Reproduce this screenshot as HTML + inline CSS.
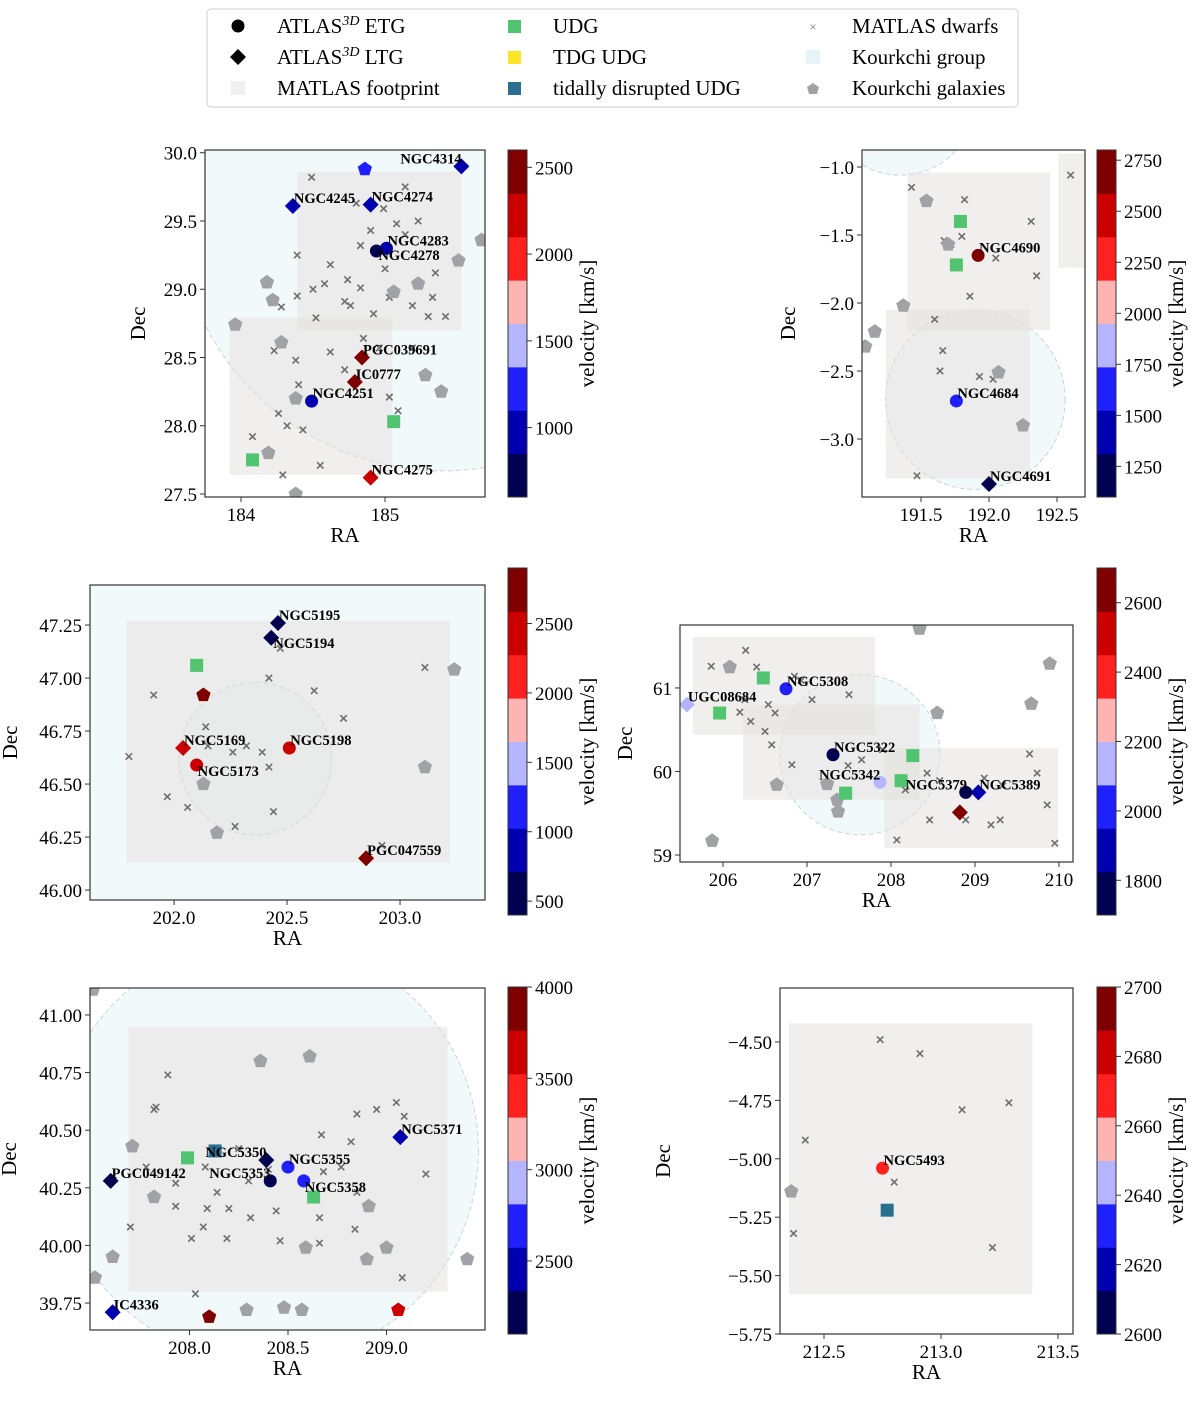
<!DOCTYPE html>
<html><head><meta charset="utf-8"><style>
body{margin:0;background:#fff;}
svg, svg text{font-family:"Liberation Serif","Times New Roman","DejaVu Serif",serif;}
</style></head><body>
<svg id="fig" width="1200" height="1396" viewBox="0 0 1200 1396" xmlns="http://www.w3.org/2000/svg" font-family="Liberation Serif, Times New Roman, serif">
<g>
<rect x="207" y="9" width="811" height="98" rx="4" fill="#fff" stroke="#cfcfcf"/>
<circle cx="238" cy="26" r="6.5" fill="#000"/>
<text x="277" y="33" font-size="21">ATLAS<tspan font-size="14" dy="-8" font-style="italic">3D</tspan><tspan dy="8"> ETG</tspan></text>
<polygon points="238,49 246,57 238,65 230,57" fill="#000"/>
<text x="277" y="64" font-size="21">ATLAS<tspan font-size="14" dy="-8" font-style="italic">3D</tspan><tspan dy="8"> LTG</tspan></text>
<rect x="231" y="81" width="14" height="14" fill="#f1f0ee"/>
<text x="277" y="95" font-size="21">MATLAS footprint</text>
<rect x="508" y="20" width="13" height="13" fill="#50c46e"/>
<text x="553" y="33" font-size="21">UDG</text>
<rect x="508" y="51" width="13" height="13" fill="#fce522"/>
<text x="553" y="64" font-size="21">TDG UDG</text>
<rect x="508" y="82" width="13" height="13" fill="#2a6f8e"/>
<text x="553" y="95" font-size="21">tidally disrupted UDG</text>
<text x="813" y="31" font-size="13" text-anchor="middle" fill="#777">×</text>
<text x="852" y="33" font-size="21">MATLAS dwarfs</text>
<rect x="806" y="50" width="14" height="14" fill="#e6f3f8"/>
<text x="852" y="64" font-size="21">Kourkchi group</text>
<polygon points="813,83 819,87 817,94 809,94 807,87" fill="#a0a2a5"/>
<text x="852" y="95" font-size="21">Kourkchi galaxies</text>
</g>
<g id="panels"></g>
</svg>
<script>
// ---------- Panel 1 data ----------
const p1_etg = [[185.01,29.30,1000,'NGC4283'],[184.94,29.28,720,'NGC4278'],[184.49,28.18,1050,'NGC4251']];
const p1_ltg = [[185.53,29.90,920,'NGC4314'],[184.36,29.61,930,'NGC4245'],[184.90,29.62,930,'NGC4274'],[184.84,28.50,2450,'PGC039691'],[184.79,28.32,2450,'IC0777'],[184.90,27.62,2230,'NGC4275']];
const p1_kvel = [[184.86,29.88,1200]];
const p1_udg = [[185.06,28.03],[184.08,27.75]];
const p1_tdg = [];
const p1_kgal = [[184.18,29.05],[183.96,28.74],[184.28,28.61],[184.38,28.20],[184.19,27.80],[184.38,27.50],[185.51,29.21],[185.23,29.04],[185.28,28.37],[185.39,28.25],[185.67,29.36],[184.22,28.92],[185.06,28.98]];
const p1_dw = [[184.49,29.82],[185.14,29.75],[184.80,29.63],[184.99,29.59],[185.08,29.48],[185.23,29.50],[184.90,29.43],[185.14,29.40],[184.83,29.32],[185.00,29.15],[184.39,29.25],[184.28,28.87],[184.39,28.95],[184.50,29.00],[184.58,29.04],[184.62,29.18],[184.74,29.07],[184.72,28.91],[184.83,29.01],[184.92,28.82],[185.03,28.94],[184.52,28.79],[184.76,28.88],[185.33,28.94],[185.30,28.80],[185.19,28.88],[185.35,29.12],[185.42,28.80],[184.85,28.64],[184.96,28.57],[184.62,28.54],[184.72,28.41],[184.38,28.48],[184.40,28.30],[184.23,28.55],[184.08,27.92],[184.32,28.00],[184.43,27.97],[184.55,27.71],[184.26,28.09],[185.09,28.11],[185.19,28.57],[184.29,27.64],[185.03,28.21]];
const p1_foot = [[184.39,185.53,28.70,29.86],[183.92,185.05,27.64,28.79]];
const p1_circ = [[185.40,29.62,1.95]];
const p1_xt = [184,185]; const p1_yt = [27.5,28.0,28.5,29.0,29.5,30.0]; const p1_ct = [1000,1500,2000,2500];

// ---------- Panel 2 data ----------
const p2_etg = [[191.92,-1.65,2700,'NGC4690'],[191.76,-2.72,1620,'NGC4684']];
const p2_ltg = [[192.00,-3.33,1150,'NGC4691']];
const p2_kvel = [];
const p2_udg = [[191.79,-1.40],[191.76,-1.72]];
const p2_tdg = [];
const p2_kgal = [[191.54,-1.25],[191.70,-1.57],[191.37,-2.02],[191.16,-2.21],[191.09,-2.32],[192.07,-2.51],[192.25,-2.90]];
const p2_dw = [[191.43,-1.15],[191.82,-1.24],[191.67,-1.54],[191.72,-1.57],[191.80,-1.51],[192.05,-1.67],[192.31,-1.40],[192.35,-1.80],[192.60,-1.06],[191.86,-1.95],[191.60,-2.12],[191.66,-2.35],[191.93,-2.54],[192.03,-2.56],[191.64,-2.50],[191.47,-3.27]];
const p2_foot = [[191.40,192.45,-2.20,-1.04],[192.51,192.71,-1.74,-0.90],[191.24,192.30,-3.29,-2.05]];
const p2_circ = [[191.90,-2.71,0.66],[191.35,-0.51,0.55]];
const p2_xt = [191.5,192.0,192.5]; const p2_yt = [-1.0,-1.5,-2.0,-2.5,-3.0]; const p2_ct = [1250,1500,1750,2000,2250,2500,2750];

// ---------- Panel 3 data ----------
const p3_etg = [[202.51,46.67,2350,'NGC5198'],[202.10,46.59,2350,'NGC5173']];
const p3_ltg = [[202.46,47.26,480,'NGC5195'],[202.43,47.19,480,'NGC5194'],[202.04,46.67,2350,'NGC5169'],[202.85,46.15,2750,'PGC047559']];
const p3_kvel = [[202.13,46.92,2750]];
const p3_udg = [[202.10,47.06]];
const p3_tdg = [];
const p3_kgal = [[202.13,46.50],[202.19,46.27],[203.24,47.04],[203.11,46.58]];
const p3_dw = [[202.47,47.14],[202.42,47.00],[201.91,46.92],[202.62,46.94],[202.75,46.81],[202.14,46.77],[202.15,46.68],[202.32,46.68],[202.39,46.65],[202.26,46.65],[202.42,46.58],[201.80,46.63],[201.97,46.44],[202.06,46.39],[202.27,46.30],[202.44,46.37],[202.92,46.21],[203.11,47.05]];
const p3_foot = [[201.79,203.22,46.13,47.27]];
const p3_circ = [[202.50,46.70,2.0],[202.36,46.62,0.36]];
const p3_xt = [202.0,202.5,203.0]; const p3_yt = [46.00,46.25,46.50,46.75,47.00,47.25]; const p3_ct = [500,1000,1500,2000,2500];

// ---------- Panel 4 data ----------
const p4_etg = [[206.75,60.99,2030,'NGC5308'],[207.31,60.20,1750,'NGC5322'],[207.87,59.87,2150,'NGC5342'],[208.89,59.75,1750,'NGC5379']];
const p4_ltg = [[209.04,59.75,1900,'NGC5389'],[205.57,60.80,2150,'UGC08684'],[208.82,59.51,2650,'']];
const p4_kvel = [];
const p4_udg = [[206.48,61.12],[205.96,60.70],[208.26,60.19],[208.12,59.89],[207.46,59.74]];
const p4_tdg = [];
const p4_kgal = [[208.34,61.71],[206.08,61.25],[208.55,60.70],[209.67,60.81],[209.89,61.29],[205.87,59.17],[206.64,59.84],[207.24,59.85],[207.37,59.52],[207.36,59.66]];
const p4_dw = [[206.27,61.45],[205.86,61.26],[206.40,61.25],[206.93,61.09],[206.85,61.14],[206.26,60.86],[206.54,60.80],[206.62,60.70],[206.33,60.60],[206.50,60.48],[206.58,60.32],[206.20,60.71],[207.06,60.86],[207.50,60.92],[206.82,60.08],[207.65,60.14],[207.90,60.26],[207.49,60.07],[208.17,59.78],[208.43,59.98],[208.58,59.89],[208.46,59.42],[208.89,59.42],[209.19,59.36],[209.30,59.42],[209.65,60.21],[209.74,59.98],[209.86,59.60],[209.95,59.14],[209.11,59.92],[209.33,59.83],[208.07,59.18]];
const p4_foot = [[205.64,207.81,60.44,61.61],[206.24,208.34,59.66,60.80],[207.92,209.99,59.08,60.28]];
const p4_circ = [[207.63,60.20,0.96]];
const p4_xt = [206,207,208,209,210]; const p4_yt = [59,60,61]; const p4_ct = [1800,2000,2200,2400,2600];

// ---------- Panel 5 data ----------
const p5_etg = [[208.41,40.28,2200,'NGC5353'],[208.50,40.34,2700,'NGC5355'],[208.58,40.28,2700,'NGC5358']];
const p5_ltg = [[208.39,40.37,2200,'NGC5350'],[209.07,40.47,2500,'NGC5371'],[207.60,40.28,2200,'PGC049142'],[207.61,39.71,2550,'IC4336']];
const p5_kvel = [[208.10,39.69,3900],[209.06,39.72,3600]];
const p5_udg = [[207.99,40.38],[208.63,40.21]];
const p5_tdg = [[208.13,40.41]];
const p5_kgal = [[207.71,40.43],[207.82,40.21],[208.29,39.72],[208.48,39.73],[208.57,39.72],[208.36,40.80],[208.61,40.82],[208.59,39.99],[208.90,39.94],[209.00,39.99],[207.61,39.95],[207.52,39.86],[209.41,39.94],[208.91,40.17],[207.51,41.11]];
const p5_dw = [[207.89,40.74],[207.82,40.59],[207.83,40.60],[207.78,40.34],[207.93,40.27],[208.08,40.34],[208.25,40.42],[208.40,40.33],[208.30,40.28],[208.01,40.03],[208.07,40.08],[208.19,40.03],[208.09,40.16],[208.20,40.16],[208.14,40.23],[208.31,40.12],[208.44,40.15],[208.66,40.12],[208.68,40.32],[208.67,40.48],[208.82,40.45],[208.85,40.57],[208.95,40.59],[209.05,40.62],[209.09,40.56],[209.20,40.31],[209.08,39.86],[208.66,40.01],[208.85,40.23],[208.03,39.79],[207.93,40.17],[207.70,40.08],[208.77,40.34],[208.84,40.07],[208.46,40.02]];
const p5_foot = [[207.69,209.31,39.80,40.95]];
const p5_circ = [[208.39,40.41,0.92]];
const p5_xt = [208.0,208.5,209.0]; const p5_yt = [39.75,40.00,40.25,40.50,40.75,41.00]; const p5_ct = [2500,3000,3500,4000];

// ---------- Panel 6 data ----------
const p6_etg = [[212.75,-5.04,2666,'NGC5493']];
const p6_ltg = [];
const p6_kvel = [];
const p6_udg = [];
const p6_tdg = [[212.77,-5.22]];
const p6_kgal = [[212.36,-5.14]];
const p6_dw = [[212.74,-4.49],[212.91,-4.55],[212.42,-4.92],[212.37,-5.32],[212.80,-5.10],[213.09,-4.79],[213.29,-4.76],[213.22,-5.38]];
const p6_foot = [[212.35,213.39,-5.58,-4.42]];
const p6_circ = [];
const p6_xt = [212.5,213.0,213.5]; const p6_yt = [-4.50,-4.75,-5.00,-5.25,-5.50,-5.75]; const p6_ct = [2600,2620,2640,2660,2680,2700];

const CMAP = ['#000050','#0000b0','#2020ff','#b4b4ff','#ffb4b4','#ff2020','#cc0000','#800000'];
const labelOff = {NGC4314:[-61,-3],NGC4278:[2,9],NGC5194:[2,10],NGC5173:[1,11],NGC5342:[-61,-3],NGC5379:[-60,-3],NGC5350:[-61,-3],NGC5353:[-61,-3],NGC5358:[1,11]};

const panels = [
 {id:1,box:[205,150,485,497],xr:[183.75,185.694],yr:[27.478,30.02],cb:[508,150,527,497],vr:[600,2600],xd:0,yd:1,decx:-60,
  etg:p1_etg,ltg:p1_ltg,kvel:p1_kvel,udg:p1_udg,tdg:p1_tdg,kgal:p1_kgal,dw:p1_dw,foot:p1_foot,circ:p1_circ,xt:p1_xt,yt:p1_yt,ct:p1_ct},
 {id:2,box:[862,150,1085,497],xr:[191.066,192.706],yr:[-3.426,-0.875],cb:[1097,150,1116,497],vr:[1100,2800],xd:1,yd:1,decx:-67,
  etg:p2_etg,ltg:p2_ltg,kvel:p2_kvel,udg:p2_udg,tdg:p2_tdg,kgal:p2_kgal,dw:p2_dw,foot:p2_foot,circ:p2_circ,xt:p2_xt,yt:p2_yt,ct:p2_ct},
 {id:3,box:[90,585,485,900],xr:[201.628,203.376],yr:[45.953,47.439],cb:[508,568,527,915],vr:[400,2900],xd:1,yd:2,decx:-73,
  etg:p3_etg,ltg:p3_ltg,kvel:p3_kvel,udg:p3_udg,tdg:p3_tdg,kgal:p3_kgal,dw:p3_dw,foot:p3_foot,circ:p3_circ,xt:p3_xt,yt:p3_yt,ct:p3_ct},
 {id:4,box:[680,625,1073,862],xr:[205.488,210.167],yr:[58.916,61.754],cb:[1097,568,1116,915],vr:[1700,2700],xd:0,yd:0,decx:-48,
  etg:p4_etg,ltg:p4_ltg,kvel:p4_kvel,udg:p4_udg,tdg:p4_tdg,kgal:p4_kgal,dw:p4_dw,foot:p4_foot,circ:p4_circ,xt:p4_xt,yt:p4_yt,ct:p4_ct},
 {id:5,box:[90,988,485,1330],xr:[207.495,209.5],yr:[39.633,41.117],cb:[508,987,527,1334],vr:[2100,4000],xd:1,yd:2,decx:-74,
  etg:p5_etg,ltg:p5_ltg,kvel:p5_kvel,udg:p5_udg,tdg:p5_tdg,kgal:p5_kgal,dw:p5_dw,foot:p5_foot,circ:p5_circ,xt:p5_xt,yt:p5_yt,ct:p5_ct},
 {id:6,box:[780,988,1073,1334],xr:[212.312,213.564],yr:[-5.75,-4.269],cb:[1097,987,1116,1334],vr:[2600,2700],xd:1,yd:2,decx:-110,
  etg:p6_etg,ltg:p6_ltg,kvel:p6_kvel,udg:p6_udg,tdg:p6_tdg,kgal:p6_kgal,dw:p6_dw,foot:p6_foot,circ:p6_circ,xt:p6_xt,yt:p6_yt,ct:p6_ct}
];

const NS='http://www.w3.org/2000/svg';
function mk(parent,tag,attrs,text){const e=document.createElementNS(NS,tag);for(const k in attrs)e.setAttribute(k,attrs[k]);if(text!==undefined)e.textContent=text;parent.appendChild(e);return e;}
function fmt(v,d){return (v<0?'\u2212':'')+Math.abs(v).toFixed(d);}
const root=document.getElementById('panels');

panels.forEach(p=>{
  const [x0,y0,x1,y1]=p.box;
  const sx=v=>x0+(v-p.xr[0])/(p.xr[1]-p.xr[0])*(x1-x0);
  const sy=v=>y1-(v-p.yr[0])/(p.yr[1]-p.yr[0])*(y1-y0);
  const pxPerDeg=(y1-y0)/(p.yr[1]-p.yr[0]);
  const col=v=>{let i=Math.floor((v-p.vr[0])/(p.vr[1]-p.vr[0])*8);i=Math.max(0,Math.min(7,i));return CMAP[i];};
  const g=mk(root,'g',{});
  
  
  const cp=mk(g,'clipPath',{id:'clip'+p.id});mk(cp,'rect',{x:x0,y:y0,width:x1-x0,height:y1-y0});
  const plot=mk(g,'g',{'clip-path':'url(#clip'+p.id+')'});
  p.circ.forEach(c=>{const e=mk(plot,'circle',{cx:sx(c[0]),cy:sy(c[1]),r:c[2]*pxPerDeg,fill:'#e6f3f8','fill-opacity':0.5,stroke:'#c8d4da','stroke-dasharray':'5,3','stroke-width':1});
    
    });
  p.foot.forEach(f=>{const e=mk(plot,'rect',{x:sx(f[0]),y:sy(f[3]),width:sx(f[1])-sx(f[0]),height:sy(f[2])-sy(f[3]),fill:'#e3e0dc','fill-opacity':0.5});
    
    });
  p.dw.forEach(d=>{const x=sx(d[0]),y=sy(d[1]),a=3.2;const e=mk(plot,'path',{d:`M${x-a},${y-a}L${x+a},${y+a}M${x-a},${y+a}L${x+a},${y-a}`,stroke:'#6e6e6e','stroke-width':1.6});
    
    });
  const pent=(x,y,r)=>{let s=[];for(let i=0;i<5;i++){const a=-Math.PI/2+i*2*Math.PI/5;s.push((x+r*Math.cos(a)).toFixed(1)+','+(y+r*Math.sin(a)).toFixed(1));}return s.join(' ');};
  p.kgal.forEach(k=>{const e=mk(plot,'polygon',{points:pent(sx(k[0]),sy(k[1]),7.5),fill:'#a0a2a5'});
    
    });
  p.kvel.forEach(k=>{const e=mk(plot,'polygon',{points:pent(sx(k[0]),sy(k[1]),7.5),fill:col(k[2])});
    
    });
  p.udg.forEach(u=>{const e=mk(plot,'rect',{x:sx(u[0])-6.5,y:sy(u[1])-6.5,width:13,height:13,fill:'#50c46e'});
    
    });
  p.tdg.forEach(u=>{const e=mk(plot,'rect',{x:sx(u[0])-6.5,y:sy(u[1])-6.5,width:13,height:13,fill:'#2a6f8e'});
    
    });
  const label=(d,x,y)=>{if(!d[3])return;const o=labelOff[d[3]]||[1,-3];const t=mk(g,'text',{x:x+o[0],y:y+o[1],'font-size':14.5,'font-weight':'bold'},d[3]);
    
    };
  p.ltg.forEach(d=>{const x=sx(d[0]),y=sy(d[1]);const e=mk(plot,'polygon',{points:`${x},${y-8} ${x+8},${y} ${x},${y+8} ${x-8},${y}`,fill:col(d[2])});
    
    
    label(d,x,y);});
  p.etg.forEach(d=>{const x=sx(d[0]),y=sy(d[1]);const e=mk(plot,'circle',{cx:x,cy:y,r:6.5,fill:col(d[2])});
    
    
    label(d,x,y);});
  const fr=mk(g,'rect',{x:x0,y:y0,width:x1-x0,height:y1-y0,fill:'none',stroke:'#333','stroke-width':1.2});
  
  
  p.xt.forEach(v=>{const x=sx(v);mk(g,'line',{x1:x,x2:x,y1:y1,y2:y1+5,stroke:'#333'});
    const t=mk(g,'text',{x:x,y:y1+24,'font-size':19,'text-anchor':'middle'},fmt(v,p.xd));
    
    });
  p.yt.forEach(v=>{const y=sy(v);mk(g,'line',{x1:x0-5,x2:x0,y1:y,y2:y,stroke:'#333'});
    const t=mk(g,'text',{x:x0-8,y:y+7,'font-size':19,'text-anchor':'end'},fmt(v,p.yd));
    
    });
  const xl=mk(g,'text',{x:(x0+x1)/2,y:y1+45,'font-size':21,'text-anchor':'middle'},'RA');
  
  
  const yc=(y0+y1)/2;
  const yl=mk(g,'text',{x:x0+p.decx,y:yc,'font-size':21,'text-anchor':'middle',transform:`rotate(-90 ${x0+p.decx} ${yc})`},'Dec');
  
  
  const [cx0,cy0,cx1,cy1]=p.cb;const bh=(cy1-cy0)/8;
  const cg=mk(g,'g',{});
  
  
  CMAP.forEach((c,i)=>{mk(cg,'rect',{x:cx0,y:cy1-(i+1)*bh,width:cx1-cx0,height:bh+0.5,fill:c});});
  mk(cg,'rect',{x:cx0,y:cy0,width:cx1-cx0,height:cy1-cy0,fill:'none',stroke:'#333'});
  const cs=v=>cy1-(v-p.vr[0])/(p.vr[1]-p.vr[0])*(cy1-cy0);
  p.ct.forEach(v=>{const y=cs(v);mk(cg,'line',{x1:cx1,x2:cx1+5,y1:y,y2:y,stroke:'#333'});
    const t=mk(cg,'text',{x:cx1+8,y:y+7,'font-size':19},String(v));
    
    });
  const lx=cx1+67,ly=(cy0+cy1)/2;
  const cl=mk(cg,'text',{x:lx,y:ly,'font-size':21,'text-anchor':'middle',transform:`rotate(-90 ${lx} ${ly})`},'velocity [km/s]');
  
  
});
</script>
</body></html>
